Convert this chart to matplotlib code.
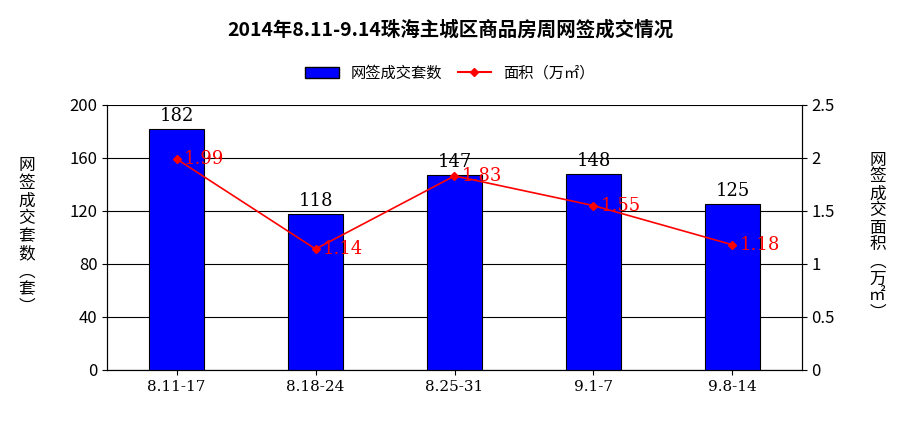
import matplotlib
matplotlib.use("Agg")
import matplotlib.pyplot as plt
from matplotlib.lines import Line2D
from matplotlib.patches import Patch

plt.rcParams['font.family'] = ['Noto Sans CJK SC', 'DejaVu Sans']

categories = ["8.11-17", "8.18-24", "8.25-31", "9.1-7", "9.8-14"]
units = [182, 118, 147, 148, 125]
area = [1.99, 1.14, 1.83, 1.55, 1.18]
area_labels = ["1.99", "1.14", "1.83", "1.55", "1.18"]

fig = plt.figure(figsize=(9, 4.3), dpi=100)
ax = fig.add_axes([0.119, 0.14, 0.772, 0.616])
x = range(len(categories))
ax.bar(x, units, width=0.4, color="#0000FF", edgecolor="black", linewidth=0.8, zorder=3)
for i, v in enumerate(units):
    ax.text(i, v + 3, str(v), ha="center", va="bottom", fontsize=13, family=['DejaVu Serif'])
ax.set_ylim(0, 200)
ax.set_yticks(range(0, 201, 40))
ax.set_xlim(-0.5, 4.5)
ax.set_xticks(list(x))
ax.set_xticklabels(categories, fontsize=11, family=['DejaVu Serif'])
ax.tick_params(axis='y', labelsize=12)
ax.grid(axis='y', color='black', linewidth=0.8, zorder=0)
ax.spines['top'].set_visible(False)

ax2 = ax.twinx()
ax2.plot(list(x), area, color="red", marker="D", markersize=4, linewidth=1.2, zorder=4)
for i, (v, l) in enumerate(zip(area, area_labels)):
    ax2.text(i + 0.05, v, l, color="red", fontsize=13, va="center", ha="left", family=['DejaVu Serif'])
ax2.set_ylim(0, 2.5)
ax2.set_yticks([0, 0.5, 1, 1.5, 2, 2.5])
ax2.set_yticklabels(["0", "0.5", "1", "1.5", "2", "2.5"], fontsize=12)
ax2.spines['top'].set_visible(False)

fig.text(0.5, 0.93, "2014年8.11-9.14珠海主城区商品房周网签成交情况", ha="center", va="center",
         fontsize=14, fontweight="bold")
handles = [Patch(facecolor="#0000FF", edgecolor="black"),
           Line2D([0], [0], color="red", marker="D", markersize=4)]
fig.legend(handles, ["网签成交套数", "面积（万㎡）"], loc="center", bbox_to_anchor=(0.5, 0.83),
           ncol=2, frameon=False, fontsize=11, handlelength=2.2, columnspacing=1.0)
fig.text(0.03, 0.45, "\n".join("网签成交套数︵套︶"), ha="center", va="center", fontsize=12, linespacing=1.05)
fig.text(0.975, 0.45, "\n".join("网签成交面积︵万㎡︶"), ha="center", va="center", fontsize=12, linespacing=1.0)
fig.savefig("out.png", dpi=100)
